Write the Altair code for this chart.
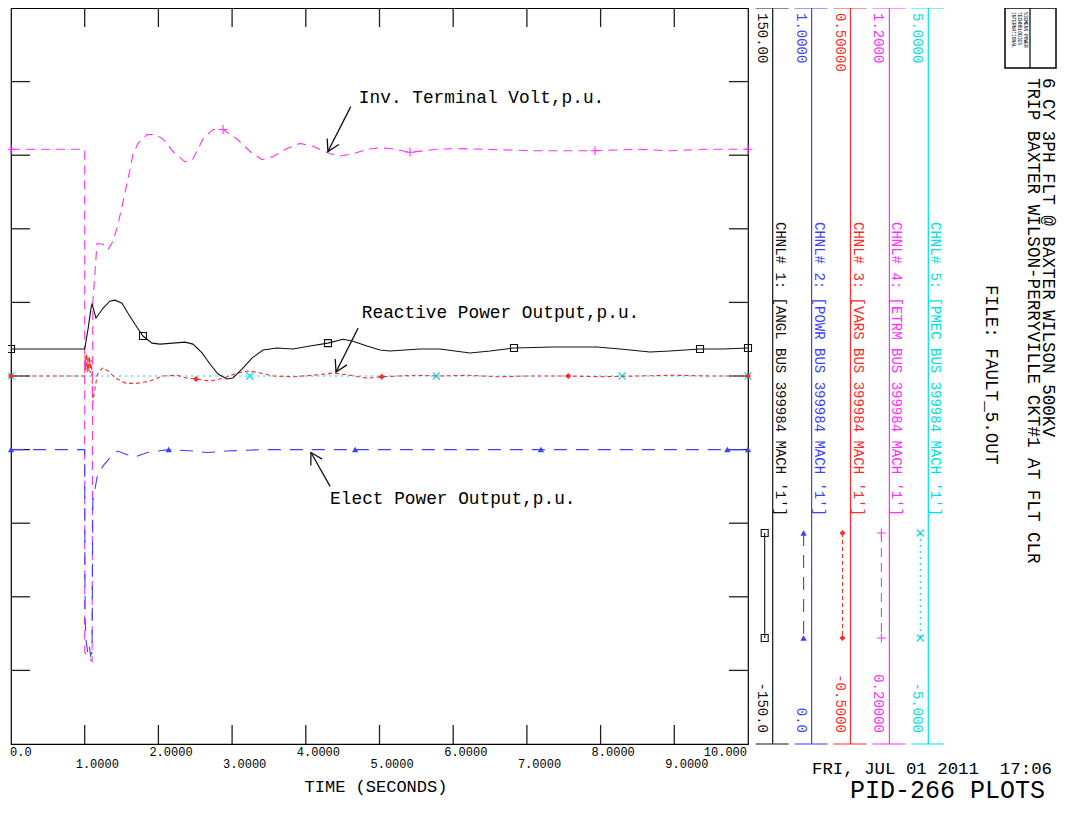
import math
import altair as alt
import pandas as pd

FONT = "Liberation Mono"
W, H = 737, 736  # plot frame (page x 11..748, y 8..744)

# ---------------- channel metadata ----------------
CH_NAMES = [
    "CHNL# 1: [ANGL BUS 399984 MACH '1']",
    "CHNL# 2: [POWR BUS 399984 MACH '1']",
    "CHNL# 3: [VARS BUS 399984 MACH '1']",
    "CHNL# 4: [ETRM BUS 399984 MACH '1']",
    "CHNL# 5: [PMEC BUS 399984 MACH '1']",
]
CH_TOP = ["150.00", "1.0000", "0.50000", "1.2000", "5.0000"]
CH_BOT = ["-150.0", "0.0", "-0.5000", "0.20000", "-5.000"]
CH_LO = [-150.0, 0.0, -0.5, 0.2, -5.0]
CH_HI = [150.0, 1.0, 0.5, 1.2, 5.0]

# ---------------- series (time in s, channel units) ----------------
T_ANGL = [0.0, 1.0, 1.05, 1.09, 1.10, 1.153, 1.248, 1.34, 1.41, 1.506, 1.588, 1.683,
          1.791, 1.913, 2.022, 2.198, 2.361, 2.469, 2.592, 2.70, 2.809, 2.931, 3.012,
          3.134, 3.27, 3.419, 3.609, 3.826, 4.057, 4.301, 4.505, 4.64, 4.83, 5.007,
          5.142, 5.55, 5.821, 6.228, 6.499, 6.825, 7.354, 7.951, 8.263, 8.67, 8.942,
          9.349, 9.661, 10.0]
V_ANGL = [11.0, 11.0, 20.0, 28.5, 29.3, 23.6, 27.6, 30.5, 30.9, 29.7, 25.6, 21.1,
          16.3, 13.4, 13.0, 13.4, 13.8, 13.0, 9.4, 4.9, 0.8, -1.2, -0.8,
          2.8, 7.3, 10.6, 11.4, 11.0, 12.2, 13.4, 15.0, 14.2, 12.2, 10.6,
          10.2, 11.0, 11.0, 9.4, 10.2, 11.4, 11.8, 11.8, 11.0, 9.8, 10.2,
          11.0, 11.0, 11.4]

T_POWR = [0.0, 1.0, 1.005, 1.02, 1.04, 1.06, 1.08, 1.10, 1.11, 1.167, 1.25, 1.35, 1.45,
          1.55, 1.68, 1.85, 2.0, 2.14, 2.47, 2.66, 2.93, 3.4, 4.67, 6.0, 7.19, 8.5,
          9.72, 10.0]
V_POWR = [0.400, 0.400, 0.170, 0.140, 0.125, 0.135, 0.120, 0.125, 0.330, 0.362, 0.378,
          0.390, 0.398, 0.394, 0.390, 0.396, 0.398, 0.400, 0.398, 0.396, 0.398, 0.400,
          0.400, 0.400, 0.400, 0.400, 0.400, 0.400]

T_VARS = [0.0, 1.0, 1.005, 1.015, 1.025, 1.035, 1.045, 1.055, 1.065, 1.075, 1.085,
          1.095, 1.11, 1.167, 1.20, 1.248, 1.316, 1.42, 1.56, 1.70, 1.88, 2.06, 2.25,
          2.39, 2.51, 2.70, 2.877, 3.066, 3.243, 3.379, 3.555, 3.826, 4.098, 4.369,
          4.60, 4.83, 5.03, 5.5, 5.8, 6.2, 6.6, 7.0, 7.56, 8.0, 8.5, 9.0, 9.5, 10.0]
V_VARS = [0.0, 0.0, 0.028, 0.008, 0.030, 0.005, 0.027, 0.006, 0.025, 0.004, 0.022,
          0.010, -0.036, 0.0, 0.007, 0.011, 0.007, -0.003, -0.010, -0.010, -0.007, 0.0,
          0.001, -0.003, -0.004, -0.007, -0.003, 0.004, 0.007, 0.004, 0.0, -0.001,
          0.001, 0.004, 0.001, -0.003, -0.001, 0.001, 0.0, 0.001, -0.001, 0.0, 0.0,
          -0.001, 0.0, 0.001, 0.0, 0.0]

T_ETRM = [0.0, 1.0, 1.0, 1.05, 1.10, 1.11, 1.167, 1.25, 1.316, 1.384, 1.452, 1.52,
          1.588, 1.655, 1.723, 1.845, 1.954, 2.062, 2.198, 2.361, 2.469, 2.605, 2.741,
          2.877, 3.066, 3.243, 3.406, 3.555, 3.745, 3.921, 4.098, 4.328, 4.464, 4.64,
          4.83, 5.007, 5.142, 5.414, 5.78, 6.052, 6.404, 7.137, 7.585, 7.924, 8.494,
          8.942, 9.389, 9.756, 10.0]
V_ETRM = [1.008, 1.008, 0.325, 0.318, 0.312, 0.800, 0.880, 0.879, 0.872, 0.883, 0.906,
          0.937, 0.968, 1.001, 1.016, 1.028, 1.028, 1.022, 1.005, 0.991, 0.995, 1.022,
          1.035, 1.035, 1.022, 1.005, 0.994, 0.998, 1.009, 1.016, 1.012, 1.002, 0.999,
          1.002, 1.008, 1.010, 1.009, 1.004, 1.008, 1.009, 1.008, 1.006, 1.006, 1.006,
          1.008, 1.006, 1.008, 1.008, 1.008]

T_PMEC = [0.0, 1.0, 2.0, 3.0, 4.0, 5.0, 6.0, 7.0, 8.0, 9.0, 10.0]
V_PMEC = [0.0, 0.0, 0.0, 0.0, 0.0, 0.0, 0.0, 0.0, 0.0, 0.0, 0.0]

# marker positions on each curve
MT_ANGL = [0.0, 1.791, 4.301, 6.825, 9.349, 10.0]
MV_ANGL = [11.0, 16.3, 13.4, 11.4, 11.0, 11.4]
MT_POWR = [0.0, 2.14, 4.67, 7.19, 9.72, 10.0]
MV_POWR = [0.400, 0.400, 0.400, 0.400, 0.400, 0.400]
MT_VARS = [0.0, 2.51, 5.03, 7.56, 10.0]
MV_VARS = [0.0, -0.004, -0.001, 0.0, 0.0]
MT_ETRM = [0.0, 2.877, 5.414, 7.924, 10.0]
MV_ETRM = [1.008, 1.035, 1.004, 1.006, 1.008]
MT_PMEC = [0.0, 3.24, 5.77, 8.29, 10.0]
MV_PMEC = [0.0, 0.0, 0.0, 0.0, 0.0]

X_TICKS = [0, 1, 2, 3, 4, 5, 6, 7, 8, 9, 10]
X_LABELS = ["0.0", "1.0000", "2.0000", "3.0000", "4.0000", "5.0000", "6.0000",
            "7.0000", "8.0000", "9.0000", "10.000"]
Y_TICKS_ANGL = [120, 90, 60, 30, 0, -30, -60, -90, -120]

# annotations (channel index, text anchor, arrow tail, arrow tip)
ANN_TEXT = ["Inv. Terminal Volt,p.u.", "Reactive Power Output,p.u.", "Elect Power Output,p.u."]
ANN_CH = [3, 2, 1]
ANN_T = [4.72, 4.76, 4.33]
ANN_V = [1.078, 0.0854, 0.333]
TAIL_T = [4.61, 4.71, 4.33]
TAIL_V = [1.066, 0.065, 0.350]
TIP_T = [4.30, 4.41, 4.07]
TIP_V = [1.005, 0.0054, 0.396]

TITLE1 = "6 CY 3PH FLT @ BAXTER WILSON 500KV"
TITLE2 = "TRIP BAXTER WILSON-PERRYVILLE CKT#1 AT FLT CLR"
FILE_TXT = "FILE: FAULT_5.OUT"
DATE_TXT = "FRI, JUL 01 2011\u00a0 17:06"
PID_TXT = "PID-266 PLOTS"
LOGO_LINES = ["SIEMENS POWER", "TECHNOLOGIES", "INTERNATIONAL"]

# ---------------- styles ----------------
COLORS = ["#111111", "#3f3fff", "#ff2a2a", "#ff30ff", "#00e0e0"]
DASHES = [None, [13, 9], [4, 3], [9, 6], [2, 4]]
PLUS = "M-1,0L1,0M0,-1L0,1"
XSH = "M-1,-1L1,1M-1,1L1,-1"
SHAPES = ["square", "triangle-up", "diamond", PLUS, XSH]
FILLED = [False, True, True, False, False]
SIZES = [49, 40, 36, 81, 49]
ARROW = "M-0.87,1.5L0,0L0.87,1.5"

SERIES_T = [T_ANGL, T_POWR, T_VARS, T_ETRM, T_PMEC]
SERIES_V = [V_ANGL, V_POWR, V_VARS, V_ETRM, V_PMEC]
MARK_T = [MT_ANGL, MT_POWR, MT_VARS, MT_ETRM, MT_PMEC]
MARK_V = [MV_ANGL, MV_POWR, MV_VARS, MV_ETRM, MV_PMEC]

xs = alt.Scale(domain=[0, 10], nice=False, zero=False)


def ys(i):
    return alt.Scale(domain=[CH_LO[i], CH_HI[i]], nice=False, zero=False)


def one():
    return pd.DataFrame({"a": [0]})


def txt(s, x, y, size, angle=0, align="left", color="black", baseline="middle"):
    return alt.Chart(pd.DataFrame({"s": [s]})).mark_text(
        font=FONT, fontSize=size, angle=angle, align=align, baseline=baseline, color=color
    ).encode(x=alt.value(x), y=alt.value(y), text="s:N")


layers = []

# ---- frame ticks ----
tdf = pd.DataFrame({"t": X_TICKS[1:-1]})
for y0, y1 in [(0, 19), (H - 19, H)]:
    layers.append(alt.Chart(tdf).mark_rule(color="#222", strokeWidth=1.3).encode(
        x=alt.X("t:Q", scale=xs, axis=None), y=alt.value(y0), y2=alt.value(y1)))
ydf = pd.DataFrame({"v": Y_TICKS_ANGL})
for x0, x1 in [(0, 19), (W - 19, W)]:
    layers.append(alt.Chart(ydf).mark_rule(color="#222", strokeWidth=1.3).encode(
        y=alt.Y("v:Q", scale=ys(0), axis=None), x=alt.value(x0), x2=alt.value(x1)))

# ---- x tick labels (staggered) ----
lab = pd.DataFrame({"t": X_TICKS, "lab": X_LABELS, "row": [i % 2 for i in range(len(X_TICKS))]})
inner = lab.iloc[1:-1]
for r, yy in [(0, 744), (1, 756)]:
    layers.append(alt.Chart(inner[inner.row == r]).mark_text(
        font=FONT, fontSize=12, align="left", dx=-9, baseline="middle", color="black").encode(
        x=alt.X("t:Q", scale=xs, axis=None), y=alt.value(yy), text="lab:N"))
layers.append(alt.Chart(lab.iloc[:1]).mark_text(
    font=FONT, fontSize=12, align="left", dx=-1, baseline="middle", color="black").encode(
    x=alt.X("t:Q", scale=xs, axis=None), y=alt.value(744), text="lab:N"))
layers.append(alt.Chart(lab.iloc[-1:]).mark_text(
    font=FONT, fontSize=12, align="right", dx=-1, baseline="middle", color="black").encode(
    x=alt.X("t:Q", scale=xs, axis=None), y=alt.value(744), text="lab:N"))
layers.append(txt("TIME (SECONDS)", 365, 779, 17, align="center"))

# ---- curves ----
for i in [4, 2, 3, 1, 0]:
    df = pd.DataFrame({"t": SERIES_T[i], "v": SERIES_V[i], "n": list(range(len(SERIES_T[i])))})
    kw = dict(color=COLORS[i], strokeWidth=1.1)
    if DASHES[i]:
        kw["strokeDash"] = DASHES[i]
    layers.append(alt.Chart(df).mark_line(**kw).encode(
        x=alt.X("t:Q", scale=xs, axis=None),
        y=alt.Y("v:Q", scale=ys(i), axis=None),
        order=alt.Order("n:Q")))
    mdf = pd.DataFrame({"t": MARK_T[i], "v": MARK_V[i]})
    layers.append(alt.Chart(mdf).mark_point(
        shape=SHAPES[i], filled=FILLED[i], size=SIZES[i], color=COLORS[i],
        strokeWidth=1.1, opacity=1).encode(
        x=alt.X("t:Q", scale=xs, axis=None),
        y=alt.Y("v:Q", scale=ys(i), axis=None)))

# ---- annotations ----
for k in range(3):
    c = ANN_CH[k]
    span = CH_HI[c] - CH_LO[c]
    dx = (TIP_T[k] - TAIL_T[k]) / 10 * W
    dy = -(TIP_V[k] - TAIL_V[k]) / span * H
    ang = math.degrees(math.atan2(dx, -dy)) % 360
    adf = pd.DataFrame({"t": [TAIL_T[k]], "v": [TAIL_V[k]], "t2": [TIP_T[k]], "v2": [TIP_V[k]],
                        "tt": [ANN_T[k]], "tv": [ANN_V[k]], "s": [ANN_TEXT[k]]})
    layers.append(alt.Chart(adf).mark_rule(color="#111", strokeWidth=1.3).encode(
        x=alt.X("t:Q", scale=xs, axis=None), y=alt.Y("v:Q", scale=ys(c), axis=None),
        x2="t2:Q", y2="v2:Q"))
    layers.append(alt.Chart(adf).mark_point(
        shape=ARROW, filled=False, size=225, angle=round(ang, 1), color="#111",
        strokeWidth=1.3, opacity=1).encode(
        x=alt.X("t2:Q", scale=xs, axis=None), y=alt.Y("v2:Q", scale=ys(c), axis=None)))
    layers.append(alt.Chart(adf).mark_text(
        font=FONT, fontSize=17.8, align="left", baseline="middle", color="black").encode(
        x=alt.X("tt:Q", scale=xs, axis=None), y=alt.Y("tv:Q", scale=ys(c), axis=None),
        text="s:N"))

# ---- right-hand channel scales / legend ----
LX0, LSP = 761.7, 38.9
for k in range(5):
    L = LX0 + k * LSP
    col = COLORS[k]
    layers.append(alt.Chart(one()).mark_rule(color=col, strokeWidth=1.2).encode(
        x=alt.value(L), y=alt.value(0), y2=alt.value(H)))
    for yy in (0, H):
        layers.append(alt.Chart(one()).mark_rule(color=col, strokeWidth=1.2).encode(
            x=alt.value(L - 17), x2=alt.value(L + 16), y=alt.value(yy)))
    layers.append(txt(CH_TOP[k], L - 11, 5, 14, angle=90, align="left", color=col))
    layers.append(txt(CH_BOT[k], L - 11, 725, 14, angle=90, align="right", color=col))
    layers.append(txt(CH_NAMES[k], L + 7, 214, 14, angle=90, align="left", color=col))
    kw = dict(color=col, strokeWidth=1.1)
    if DASHES[k]:
        kw["strokeDash"] = DASHES[k]
    layers.append(alt.Chart(one()).mark_rule(**kw).encode(
        x=alt.value(L - 8), y=alt.value(525), y2=alt.value(630)))
    for yy in (525, 630):
        layers.append(alt.Chart(one()).mark_point(
            shape=SHAPES[k], filled=FILLED[k], size=SIZES[k], color=col,
            strokeWidth=1.1, opacity=1).encode(x=alt.value(L - 8), y=alt.value(yy)))

# ---- titles / footer ----
layers.append(txt(TITLE1, 1037, 70, 17.6, angle=90, align="left"))
layers.append(txt(TITLE2, 1022, 70, 17.6, angle=90, align="left"))
layers.append(txt(FILE_TXT, 980, 277, 17.6, angle=90, align="left"))
layers.append(txt(DATE_TXT, 801, 766, 17.4, align="left", baseline="alphabetic"))
layers.append(txt(PID_TXT, 839, 790, 25, align="left", baseline="alphabetic"))

# ---- logo box ----
layers.append(alt.Chart(one()).mark_rect(fill="white", stroke="black", strokeWidth=1.5).encode(
    x=alt.value(994), x2=alt.value(1045), y=alt.value(0), y2=alt.value(60)))
layers.append(alt.Chart(one()).mark_rule(color="black", strokeWidth=1.2).encode(
    x=alt.value(1019), y=alt.value(0), y2=alt.value(60)))
for j, s in enumerate(LOGO_LINES):
    layers.append(txt(s, 1014 - j * 6, 4, 4.6, angle=90, align="left"))

chart = alt.layer(*layers).resolve_scale(y="independent").properties(
    width=W, height=H,
    padding={"left": 3, "top": 0, "right": 309, "bottom": 61},
    autosize=alt.AutoSizeParams(type="none"),
    background="white",
).configure_view(stroke="black", strokeWidth=1.2)

chart.save("out.html", embed_options={"renderer": "svg", "actions": False})
